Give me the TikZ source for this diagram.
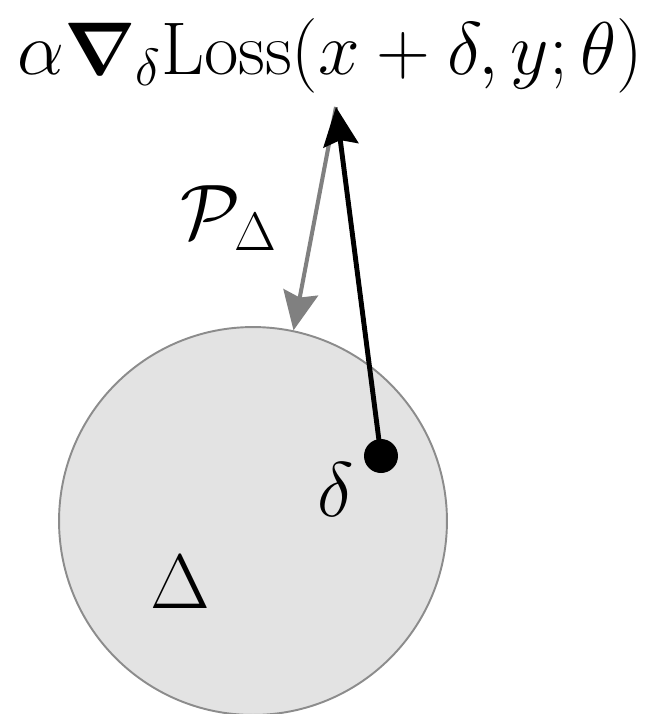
\RequirePackage{fix-cm}
\documentclass[tikz,border=0pt]{standalone}
\usepackage{amssymb,amsmath,amsfonts}
\usepackage{bm}
\usepackage{tikz}
\usetikzlibrary{arrows.meta}

\begin{document}
\begin{tikzpicture}[x=0.02cm,y=-0.02cm,
    >={Stealth[length=22pt,width=20pt,inset=3pt]},
    every node/.style={font=\fontsize{44}{52}\selectfont},
    ball/.style={circle,draw=black!45,line width=1.1pt,fill=black!11,minimum size=7.76cm,inner sep=0pt},
    point/.style={circle,fill=black,minimum size=0.68cm,inner sep=0pt}]
  \useasboundingbox (0,0) rectangle (651,714);

  \node[ball] (ball) at (253,521) {};
  \node[point] (dot) at (381,456) {};
  \coordinate (tip) at (336,107);

  \node[anchor=base,font=\fontsize{42.5}{50}\selectfont] (grad) at (330,74)
    {$\alpha\bm{\nabla}_\delta\mathrm{Loss}(x+\delta,y;\theta)$};
  \node (proj) at (229,218) {$\mathcal{P}_\Delta$};
  \node (delta) at (336,490) {$\delta$};
  \node (set) at (180,582) {$\Delta$};

  \draw[->,black!50,line width=2.3pt] (tip) -- (ball.78);
  \draw[->,line width=2.8pt] (dot.center) -- (tip);
\end{tikzpicture}
\end{document}
